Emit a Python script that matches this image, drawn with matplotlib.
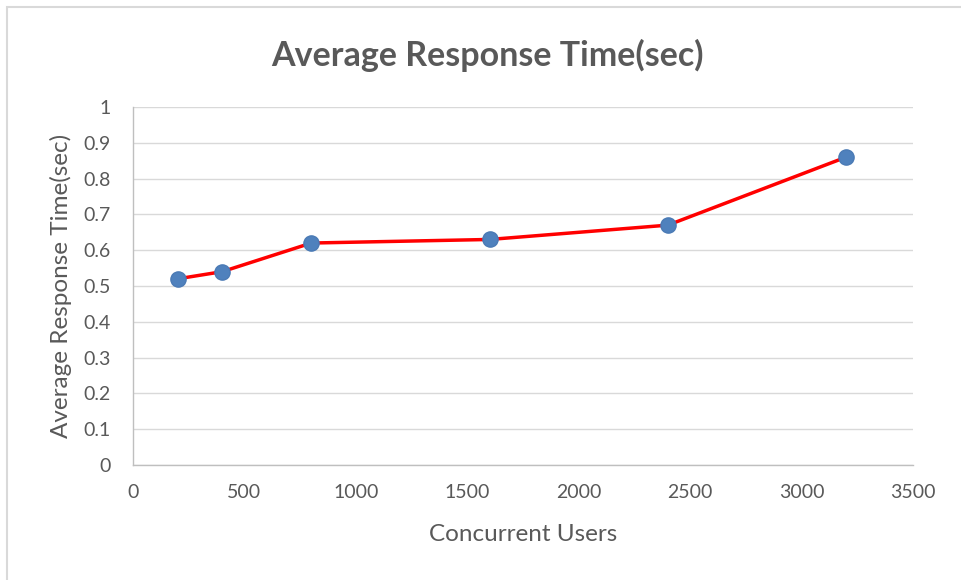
import matplotlib
matplotlib.use("Agg")
import matplotlib.pyplot as plt
from matplotlib.patches import Rectangle

users = [200, 400, 800, 1600, 2400, 3200]
resp_time = [0.52, 0.54, 0.62, 0.63, 0.67, 0.86]
xticks = [0, 500, 1000, 1500, 2000, 2500, 3000, 3500]
yticks = [0, 0.1, 0.2, 0.3, 0.4, 0.5, 0.6, 0.7, 0.8, 0.9, 1]

plt.rcParams['font.family'] = ['Lato', 'DejaVu Sans']
txt = '#595959'

fig = plt.figure(figsize=(9.61, 5.80), dpi=100)
fig.patches.append(Rectangle((7/961, -0.1), 1.2, (580-7)/580 + 0.1, transform=fig.transFigure,
                             fill=False, edgecolor='#d9d9d9', linewidth=1.5))
ax = fig.add_axes([133/961, 115/580, 780/961, 358/580])
ax.plot(users, resp_time, color='#ff0000', linewidth=2.5, zorder=3)
ax.scatter(users, resp_time, s=120, color='#4f81bd', edgecolors='#4a7ab5', zorder=4)
ax.set_xlim(0, 3500)
ax.set_ylim(0, 1)
ax.set_xticks(xticks)
ax.set_xticklabels([str(v) for v in xticks])
ax.set_yticks(yticks)
ax.set_yticklabels([f"{v:g}" for v in yticks])
ax.grid(axis='y', color='#d9d9d9', linewidth=1)
ax.set_axisbelow(True)
for s in ['top', 'right']:
    ax.spines[s].set_visible(False)
for s in ['left', 'bottom']:
    ax.spines[s].set_color('#bfbfbf')
    ax.spines[s].set_linewidth(1)
ax.tick_params(axis='x', length=0, labelsize=14, colors=txt, pad=14)
ax.tick_params(axis='y', length=0, labelsize=14, colors=txt, pad=16)
ax.set_xlabel('Concurrent Users', fontsize=17.5, color=txt, labelpad=16)
ax.set_ylabel('Average Response Time(sec)', fontsize=17.5, color=txt, labelpad=8)
fig.text(487/961, 1 - 55/580, 'Average Response Time(sec)', ha='center', va='center',
         fontsize=24.5, fontweight='bold', color=txt)
fig.savefig('out.png', dpi=100)
